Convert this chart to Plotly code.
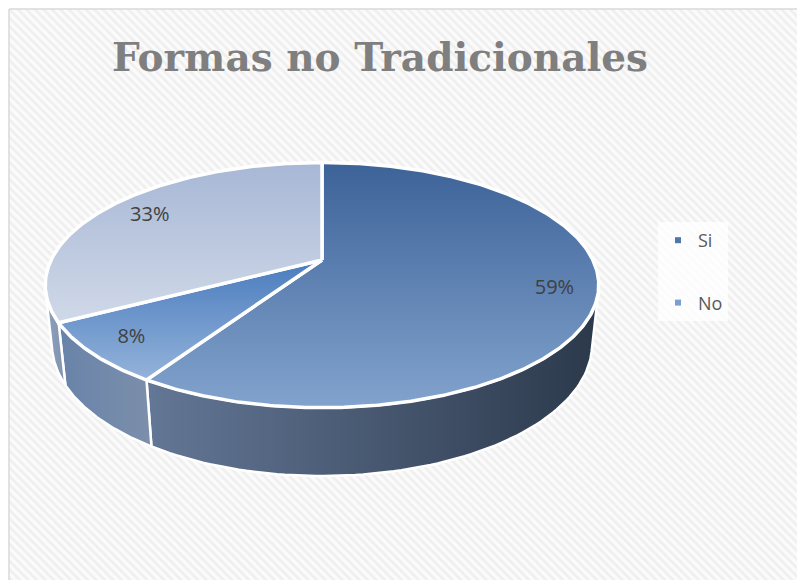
import numpy as np
import plotly.graph_objects as go

# ---------------- data ----------------
categories = ["Si", "No", ""]
values = [59, 8, 33]
legend_items = ["Si", "No"]
title_text = "Formas no Tradicionales"

# ---------------- styles ----------------
# (top-of-screen colour, bottom-of-screen colour)
top_colors = [("#3c6298", "#82a3cd"), ("#4a7cbe", "#94b3da"), ("#a7b7d5", "#d0d9e8")]
wall_colors = [("#637796", "#2c394b"), ("#6883a9", "#7c8fab"), ("#8d9fbb", "#8093b0")]
legend_colors = ["#4f77ae", "#7b9fd0"]
label_radius = [0.85, 0.85, 0.80]

W, H = 797, 580
CX, CY = 322, 260          # projected pie centre (pixels)
TILT = np.radians(25.7)    # viewing elevation
DIST = 4.40                # camera distance (pie radii)
FOCAL = 1192               # focal length (pixels)
THICK = 0.244              # pie thickness (pie radii)
COS, SIN = np.cos(TILT), np.sin(TILT)


def project(px, py, pz):
    depth = DIST + py * COS - pz * SIN
    sx = FOCAL * px / depth
    sy = FOCAL * (py * SIN + pz * COS) / depth
    return CX + sx, CY - sy


def rim(theta_deg, z=0.0, r=1.0):
    t = np.radians(theta_deg)
    return project(r * np.sin(t), r * np.cos(t), z)


total = float(sum(values))
bounds = np.concatenate([[0.0], np.cumsum(values) / total * 360.0])

# visible part of the outer wall: cos(theta) < -1/(DIST*cos(tilt))
vis_lim = np.degrees(np.arccos(-1.0 / (DIST * COS)))
vis_lo, vis_hi = vis_lim, 360.0 - vis_lim

fig = go.Figure()

# background panel with diagonal hatch
fig.add_trace(go.Scatter(
    x=[9, W + 5, W + 5, 9, 9], y=[9, 9, H + 5, H + 5, 9],
    mode="lines", fill="toself", line=dict(color="#d9d9d9", width=1.5),
    fillcolor="white",
    fillpattern=dict(shape="\\", fgcolor="#e3e3e3", bgcolor="#fbfbfb", size=6, solidity=0.45),
    hoverinfo="skip", showlegend=False))

# outer walls
for i, v in enumerate(values):
    a, b = bounds[i], bounds[i + 1]
    lo, hi = max(a, vis_lo), min(b, vis_hi)
    if hi <= lo:
        continue
    th = np.linspace(lo, hi, 80)
    tx, ty = rim(th, 0.0)
    bx, by = rim(th[::-1], -THICK)
    xs = np.concatenate([tx, bx, tx[:1]])
    ys = np.concatenate([ty, by, ty[:1]])
    fig.add_trace(go.Scatter(
        x=xs, y=ys, mode="lines", fill="toself",
        line=dict(color="white", width=2.5),
        fillgradient=dict(type="horizontal",
                          colorscale=[[0, wall_colors[i][0]], [1, wall_colors[i][1]]]),
        hoverinfo="skip", showlegend=False))

# top faces (y axis is reversed, so colourscale 0 = bottom of screen)
for i, v in enumerate(values):
    a, b = bounds[i], bounds[i + 1]
    th = np.linspace(a, b, max(int((b - a) * 2), 20))
    rx, ry = rim(th, 0.0)
    xs = np.concatenate([[CX], rx, [CX]])
    ys = np.concatenate([[CY], ry, [CY]])
    fig.add_trace(go.Scatter(
        x=xs, y=ys, mode="lines", fill="toself",
        line=dict(color="white", width=3.5),
        fillgradient=dict(type="vertical",
                          colorscale=[[0, top_colors[i][1]], [1, top_colors[i][0]]]),
        hoverinfo="skip", showlegend=False))

# percentage labels
lab_x, lab_y, lab_t = [], [], []
for i, v in enumerate(values):
    mid = (bounds[i] + bounds[i + 1]) / 2.0
    x, y = rim(mid, 0.0, label_radius[i])
    lab_x.append(float(x))
    lab_y.append(float(y))
    lab_t.append(f"{v / total * 100:.0f}%")
fig.add_trace(go.Scatter(
    x=lab_x, y=lab_y, mode="text", text=lab_t,
    textfont=dict(family="Open Sans", size=20, color="#404040"),
    hoverinfo="skip", showlegend=False))

# legend entries
for name, col in zip(legend_items, legend_colors):
    fig.add_trace(go.Scatter(
        x=[None], y=[None], mode="markers", name=name, legendgroup=name,
        marker=dict(symbol="square", size=6, color=col)))

fig.update_layout(
    width=W, height=H,
    margin=dict(l=0, r=0, t=0, b=0),
    paper_bgcolor="white", plot_bgcolor="white",
    xaxis=dict(range=[0, W], visible=False, fixedrange=True),
    yaxis=dict(range=[H, 0], visible=False, fixedrange=True),
    showlegend=True,
    legend=dict(
        x=658 / W, y=1 - 222 / H, xanchor="left", yanchor="top",
        bgcolor="rgba(255,255,255,0.75)",
        font=dict(family="Open Sans", size=18, color="#595959"),
        tracegroupgap=36, itemwidth=30,
    ),
    annotations=[dict(
        text=f"<b>{title_text}</b>", x=380 / W, y=1 - 57 / H,
        xref="paper", yref="paper", xanchor="center", yanchor="middle",
        showarrow=False,
        font=dict(family="DejaVu Serif", size=39, color="#7f7f7f"))],
)

fig.write_html("out.html")
